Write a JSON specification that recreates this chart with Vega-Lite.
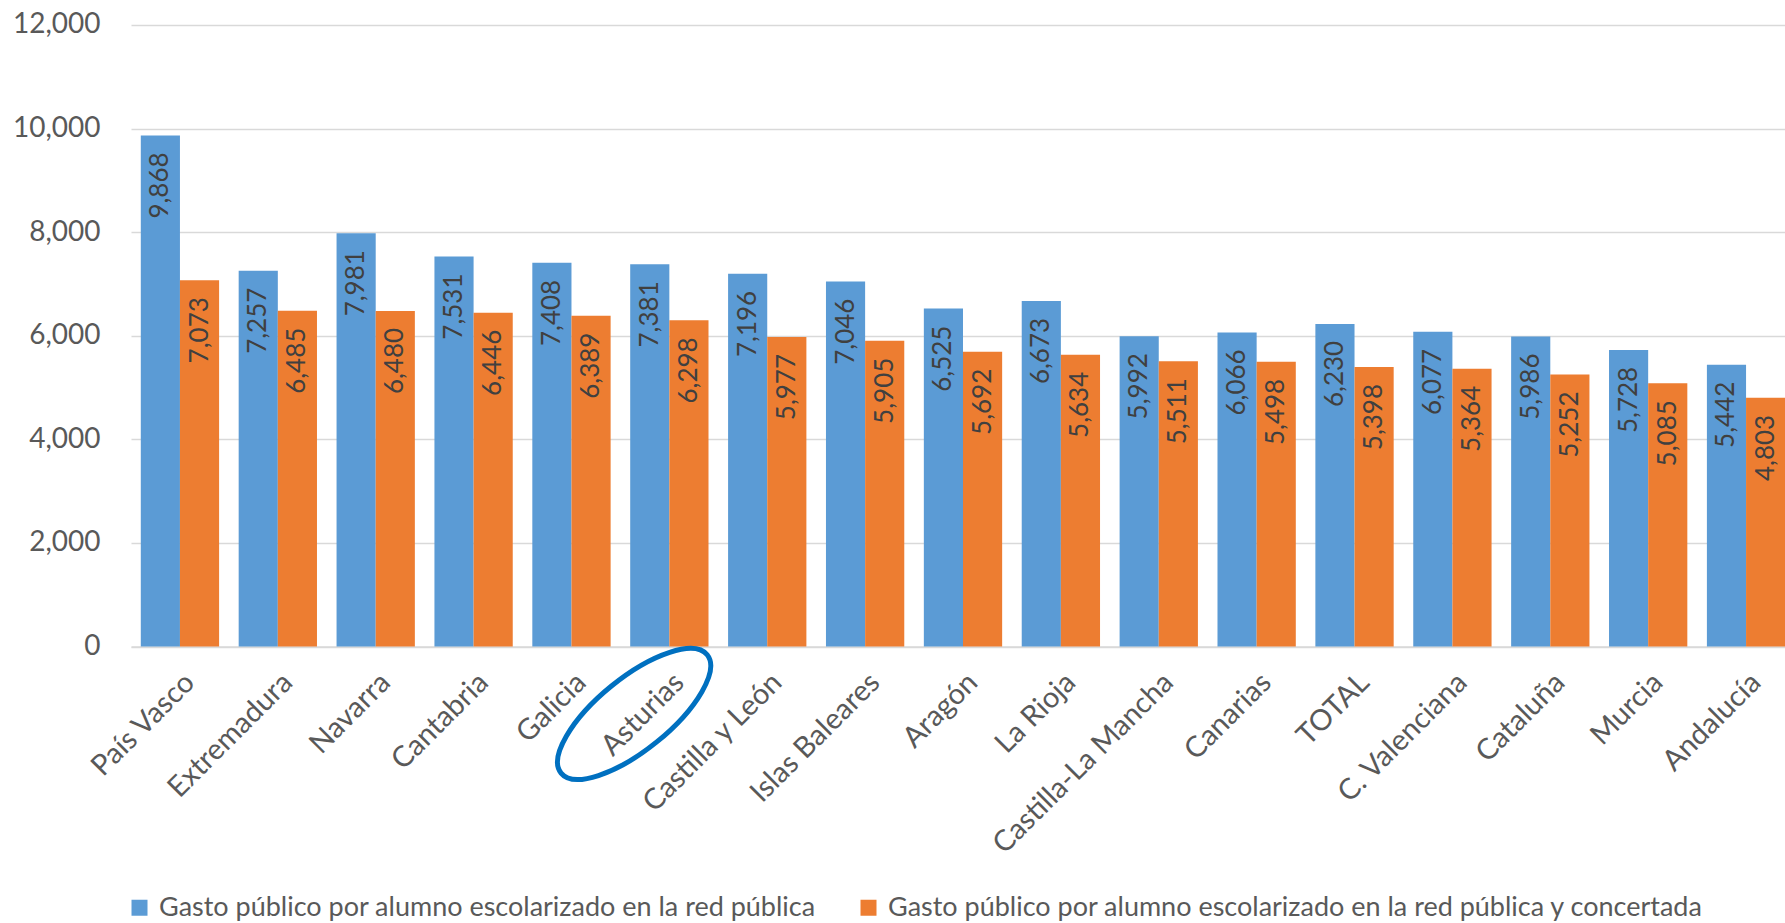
{
  "$schema": "https://vega.github.io/schema/vega-lite/v6.json",
  "width": 1664,
  "height": 621.6,
  "autosize": {"type": "none"},
  "padding": {"left": 131, "top": 25, "right": 0, "bottom": 277},
  "background": "white",
  "config": {"font": "Lato", "view": {"stroke": null}},
  "datasets": {
    "gasto": [
      {"region": "País Vasco", "serie": "Gasto público por alumno escolarizado en la red pública", "valor": 9868},
      {"region": "País Vasco", "serie": "Gasto público por alumno escolarizado en la red pública y concertada", "valor": 7073},
      {"region": "Extremadura", "serie": "Gasto público por alumno escolarizado en la red pública", "valor": 7257},
      {"region": "Extremadura", "serie": "Gasto público por alumno escolarizado en la red pública y concertada", "valor": 6485},
      {"region": "Navarra", "serie": "Gasto público por alumno escolarizado en la red pública", "valor": 7981},
      {"region": "Navarra", "serie": "Gasto público por alumno escolarizado en la red pública y concertada", "valor": 6480},
      {"region": "Cantabria", "serie": "Gasto público por alumno escolarizado en la red pública", "valor": 7531},
      {"region": "Cantabria", "serie": "Gasto público por alumno escolarizado en la red pública y concertada", "valor": 6446},
      {"region": "Galicia", "serie": "Gasto público por alumno escolarizado en la red pública", "valor": 7408},
      {"region": "Galicia", "serie": "Gasto público por alumno escolarizado en la red pública y concertada", "valor": 6389},
      {"region": "Asturias", "serie": "Gasto público por alumno escolarizado en la red pública", "valor": 7381},
      {"region": "Asturias", "serie": "Gasto público por alumno escolarizado en la red pública y concertada", "valor": 6298},
      {"region": "Castilla y León", "serie": "Gasto público por alumno escolarizado en la red pública", "valor": 7196},
      {"region": "Castilla y León", "serie": "Gasto público por alumno escolarizado en la red pública y concertada", "valor": 5977},
      {"region": "Islas Baleares", "serie": "Gasto público por alumno escolarizado en la red pública", "valor": 7046},
      {"region": "Islas Baleares", "serie": "Gasto público por alumno escolarizado en la red pública y concertada", "valor": 5905},
      {"region": "Aragón", "serie": "Gasto público por alumno escolarizado en la red pública", "valor": 6525},
      {"region": "Aragón", "serie": "Gasto público por alumno escolarizado en la red pública y concertada", "valor": 5692},
      {"region": "La Rioja", "serie": "Gasto público por alumno escolarizado en la red pública", "valor": 6673},
      {"region": "La Rioja", "serie": "Gasto público por alumno escolarizado en la red pública y concertada", "valor": 5634},
      {"region": "Castilla-La Mancha", "serie": "Gasto público por alumno escolarizado en la red pública", "valor": 5992},
      {"region": "Castilla-La Mancha", "serie": "Gasto público por alumno escolarizado en la red pública y concertada", "valor": 5511},
      {"region": "Canarias", "serie": "Gasto público por alumno escolarizado en la red pública", "valor": 6066},
      {"region": "Canarias", "serie": "Gasto público por alumno escolarizado en la red pública y concertada", "valor": 5498},
      {"region": "TOTAL", "serie": "Gasto público por alumno escolarizado en la red pública", "valor": 6230},
      {"region": "TOTAL", "serie": "Gasto público por alumno escolarizado en la red pública y concertada", "valor": 5398},
      {"region": "C. Valenciana", "serie": "Gasto público por alumno escolarizado en la red pública", "valor": 6077},
      {"region": "C. Valenciana", "serie": "Gasto público por alumno escolarizado en la red pública y concertada", "valor": 5364},
      {"region": "Cataluña", "serie": "Gasto público por alumno escolarizado en la red pública", "valor": 5986},
      {"region": "Cataluña", "serie": "Gasto público por alumno escolarizado en la red pública y concertada", "valor": 5252},
      {"region": "Murcia", "serie": "Gasto público por alumno escolarizado en la red pública", "valor": 5728},
      {"region": "Murcia", "serie": "Gasto público por alumno escolarizado en la red pública y concertada", "valor": 5085},
      {"region": "Andalucía", "serie": "Gasto público por alumno escolarizado en la red pública", "valor": 5442},
      {"region": "Andalucía", "serie": "Gasto público por alumno escolarizado en la red pública y concertada", "valor": 4803}
    ],
    "marca": [
      {"region": "Asturias", "valor": -1300}
    ]
  },
  "layer": [
    {
      "data": {"name": "gasto"},
      "mark": {"type": "bar"},
      "encoding": {
        "x": {
          "field": "region",
          "type": "nominal",
          "sort": null,
          "scale": {
            "domain": ["País Vasco", "Extremadura", "Navarra", "Cantabria", "Galicia", "Asturias", "Castilla y León", "Islas Baleares", "Aragón", "La Rioja", "Castilla-La Mancha", "Canarias", "TOTAL", "C. Valenciana", "Cataluña", "Murcia", "Andalucía"],
            "paddingInner": 0.2,
            "paddingOuter": 0.1
          },
          "axis": {
            "title": null,
            "labelAngle": -45,
            "labelAlign": "right",
            "labelBaseline": "top",
            "labelFontSize": 29,
            "labelColor": "#595959",
            "labelPadding": 21,
            "labelLimit": 400,
            "ticks": false,
            "domainColor": "#d9d9d9",
            "domainWidth": 1.5
          }
        },
        "xOffset": {
          "field": "serie",
          "type": "nominal",
          "sort": ["Gasto público por alumno escolarizado en la red pública", "Gasto público por alumno escolarizado en la red pública y concertada"]
        },
        "y": {
          "field": "valor",
          "type": "quantitative",
          "scale": {"domain": [0, 12000], "nice": false, "zero": false},
          "axis": {
            "title": null,
            "values": [0, 2000, 4000, 6000, 8000, 10000, 12000],
            "format": ",d",
            "labelFontSize": 28,
            "labelColor": "#595959",
            "labelPadding": 31,
            "ticks": false,
            "domain": false,
            "gridColor": "#d9d9d9",
            "gridWidth": 1.5
          }
        },
        "color": {
          "field": "serie",
          "type": "nominal",
          "scale": {
            "domain": ["Gasto público por alumno escolarizado en la red pública", "Gasto público por alumno escolarizado en la red pública y concertada"],
            "range": ["#5B9BD5", "#ED7D31"]
          },
          "legend": {
            "title": null,
            "orient": "none",
            "legendX": -5,
            "legendY": 869,
            "direction": "horizontal",
            "symbolType": "square",
            "symbolSize": 256,
            "symbolStrokeWidth": 0,
            "labelFontSize": 27,
            "labelColor": "#595959",
            "labelOffset": 6,
            "labelLimit": 900,
            "columnPadding": 38
          }
        }
      }
    },
    {
      "data": {"name": "gasto"},
      "mark": {"type": "text", "angle": 270, "align": "right", "baseline": "middle", "dx": -17, "fontSize": 26, "color": "#404040"},
      "encoding": {
        "x": {"field": "region", "type": "nominal", "sort": null},
        "xOffset": {
          "field": "serie",
          "type": "nominal",
          "sort": ["Gasto público por alumno escolarizado en la red pública", "Gasto público por alumno escolarizado en la red pública y concertada"]
        },
        "y": {"field": "valor", "type": "quantitative"},
        "text": {"field": "valor", "type": "quantitative", "format": ",.0f"}
      }
    },
    {
      "data": {"name": "marca"},
      "mark": {
        "type": "point",
        "shape": "M 1 0 C 1 0.2115 0.5523 0.383 0 0.383 C -0.5523 0.383 -1 0.2115 -1 0 C -1 -0.2115 -0.5523 -0.383 0 -0.383 C 0.5523 -0.383 1 -0.2115 1 0 Z",
        "size": 35344,
        "angle": -39,
        "filled": false,
        "stroke": "#0070C0",
        "strokeWidth": 5,
        "opacity": 1
      },
      "encoding": {
        "x": {"field": "region", "type": "nominal", "sort": null, "bandPosition": 0.05},
        "y": {"field": "valor", "type": "quantitative"}
      }
    }
  ]
}
